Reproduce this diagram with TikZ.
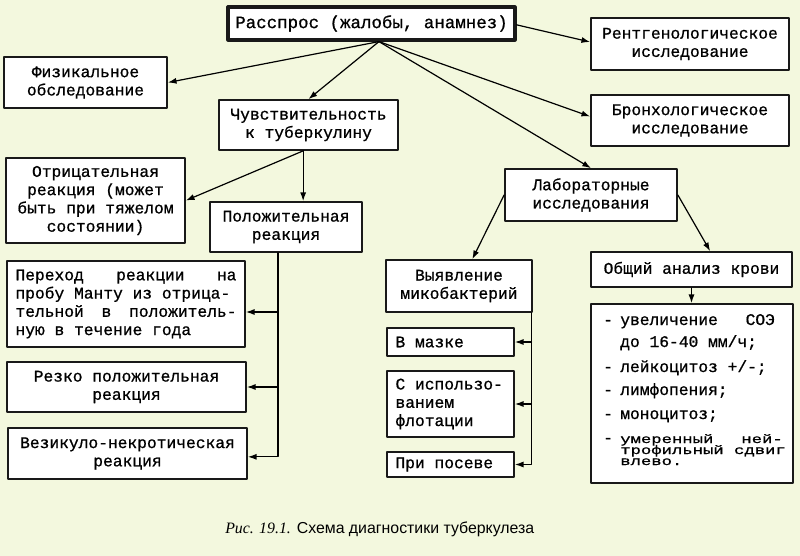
\documentclass[tikz,border=0pt]{standalone}
\usepackage{fontspec}
\setmonofont{Liberation Mono}[FakeBold=0.8]
\newfontfamily\captfont{Liberation Sans}
\newfontfamily\captitfont{Liberation Serif}
\usepackage{xcolor}
\usetikzlibrary{positioning,calc,arrows.meta}
\definecolor{paper}{RGB}{243,248,222}

\begin{document}
\begin{tikzpicture}[x=0.75pt,y=-0.75pt, font=\ttfamily\fontsize{12.2}{13.7}\selectfont, line cap=round, line join=round]
				% ===== фон =====
				\fill[paper] (0,0) rectangle (800,556);
				\useasboundingbox (0,0) rectangle (800,556);
				
				% ===== стили =====
				\tikzset{box/.style={draw=black!90, fill=white, line width=1.3pt, inner sep=0pt, align=center},
					arr/.style={-{Latex[length=6.5pt,width=4.5pt]}, line width=0.9pt},
					item/.style={anchor=base west, inner sep=0pt},
					squeeze/.style={anchor=base west, inner sep=0pt}}
				
				% ===== верхний ряд =====
				\node[box, line width=2.4pt, font=\ttfamily\fontsize{13.1}{15}\selectfont, minimum width=215.25pt, minimum height=24.75pt] (rassp) at (371.5,23.5) {Расспрос (жалобы, анамнез)};
				\node[box, minimum width=122.25pt, minimum height=38.25pt] (fiz) at (85.5,82.5) {Физикальное\\обследование};
				\node[box, minimum width=134.25pt, minimum height=37.5pt] (chuv) at (308.5,125) {Чувствительность\\к туберкулину};
				\node[box, minimum width=148.5pt, minimum height=39pt] (rent) at (690,44) {Рентгенологическое\\исследование};
				\node[box, minimum width=148.5pt, minimum height=38.25pt] (bronh) at (690,120.5) {Бронхологическое\\исследование};
				\node[box, minimum width=129pt, minimum height=39pt] (lab) at (591,195) {Лабораторные\\исследования};
				
				% ===== туберкулиновые пробы =====
				\node[box, minimum width=134.25pt, minimum height=63.75pt] (otr) at (95.5,200.5) {Отрицательная\\реакция (может\\быть при тяжелом\\состоянии)};
				\node[box, minimum width=114pt, minimum height=37.5pt] (pol) at (286,227) {Положительная\\реакция};
				\node[box, text width=165.75pt, align=flush left, minimum width=178.5pt, minimum height=64.5pt] (per) at (126,304) {Переход\hfill реакции\hfill на\\пробу Манту из отрица-\\тельной\hfill в\hfill положитель-\\ную в течение года};
				\node[box, minimum width=179.25pt, minimum height=37.5pt] (rez) at (126.5,387) {Резко положительная\\реакция};
				\node[box, minimum width=179.25pt, minimum height=38.25pt] (vez) at (127.5,453.5) {Везикуло-некротическая\\реакция};
				
				% ===== лабораторные =====
				\node[box, minimum width=109.5pt, minimum height=39pt] (vyy) at (459,286) {Выявление\\микобактерий};
				\node[box, text width=82.5pt, align=flush left, minimum width=95.25pt, minimum height=21pt] (mazke) at (450.5,342) {В мазке};
				\node[box, text width=82.5pt, align=flush left, minimum width=95.25pt, minimum height=49.5pt] (flot) at (450.5,404) {С использо-\\ванием\\флотации};
				\node[box, text width=82.5pt, align=flush left, minimum width=95.25pt, minimum height=18.75pt] (posev) at (450.5,464.5) {При посеве};
				\node[box, minimum width=150.75pt, minimum height=26.25pt] (obsh) at (691.5,269.5) {Общий анализ крови};
				\node[box, minimum width=151.5pt, minimum height=134.25pt] (spisok) at (692,393.5) {};
				
				% ===== пункты списка =====
				\foreach \yy [count=\i] in {325,372,395,419,443}{
					\node[item] (dash\i) at (603,\yy) {-};
				}
				\node[item] (soe) at (620,325) {\makebox[116pt][l]{увеличение\hfill СОЭ}};
				\node[item] (soeb) at (620,347) {до 16-40 мм/ч;};
				\node[item] (leik) at (620,372) {лейкоцитоз +/-;};
				\node[item] (limf) at (620,395) {лимфопения;};
				\node[item] (mono) at (620,419) {моноцитоз;};
				\node[squeeze] (sdvig) at (620,443) {\scalebox{1.06}[0.76]{\makebox[115pt][l]{умеренный\hfill ней-}}};
				\node[squeeze] (sdvigb) at (620,454) {\scalebox{1.06}[0.76]{трофильный сдвиг}};
				\node[squeeze] (sdvigc) at (620,465) {\scalebox{1.06}[0.76]{влево.}};
				
				% ===== стрелки от верхнего блока =====
				\coordinate (hub) at ([xshift=5.6pt]rassp.south);
				\draw[arr] (hub) -- (fiz.east);
				\draw[arr] (hub) -- (chuv.north);
				\draw[arr] (hub) -- ([yshift=3pt]bronh.west);
				\draw[arr] (hub) -- (lab.north);
				\draw[arr] ([yshift=-1pt]rassp.east) -- ([yshift=1.5pt]rent.west);
				
				% ===== чувствительность =====
				\coordinate (chuvfoot) at ([xshift=-4pt]chuv.south);
				\draw[arr] (chuvfoot) -- (otr.east);
				\draw[arr] (chuvfoot) -- (chuvfoot |- pol.north);
				
				% ===== положительная реакция =====
				\coordinate (polfoot) at ([xshift=-6pt]pol.south);
				\coordinate (perin) at ([yshift=-6pt]per.east);
				\coordinate (vezin) at ([yshift=-2.5pt]vez.east);
				\draw[arr] (polfoot) |- (vezin);
				\draw[arr] (polfoot |- perin) -- (perin);
				\draw[arr] (polfoot |- rez.east) -- (rez.east);
				
				% ===== лабораторные =====
				\draw[arr] (lab.west) -- ([xshift=10pt]vyy.north);
				\draw[arr] (lab.east) -- ([xshift=14pt]obsh.north);
				\draw[arr] (obsh.south) -- (obsh.south |- spisok.north);
				\coordinate (vyyfoot) at ([xshift=-1pt]vyy.south east);
				\draw[arr] (vyyfoot) |- (posev.east);
				\draw[arr] (vyyfoot |- mazke.east) -- (mazke.east);
				\draw[arr] (vyyfoot |- flot.east) -- (flot.east);
				
				% ===== подпись =====
				\node[anchor=base west, inner sep=0pt, font=\captfont\fontsize{11.9}{13}\selectfont] (capt) at (225,533) {{\captitfont\itshape Рис. 19.1.} Схема диагностики туберкулеза};
			\end{tikzpicture}
\end{document}
